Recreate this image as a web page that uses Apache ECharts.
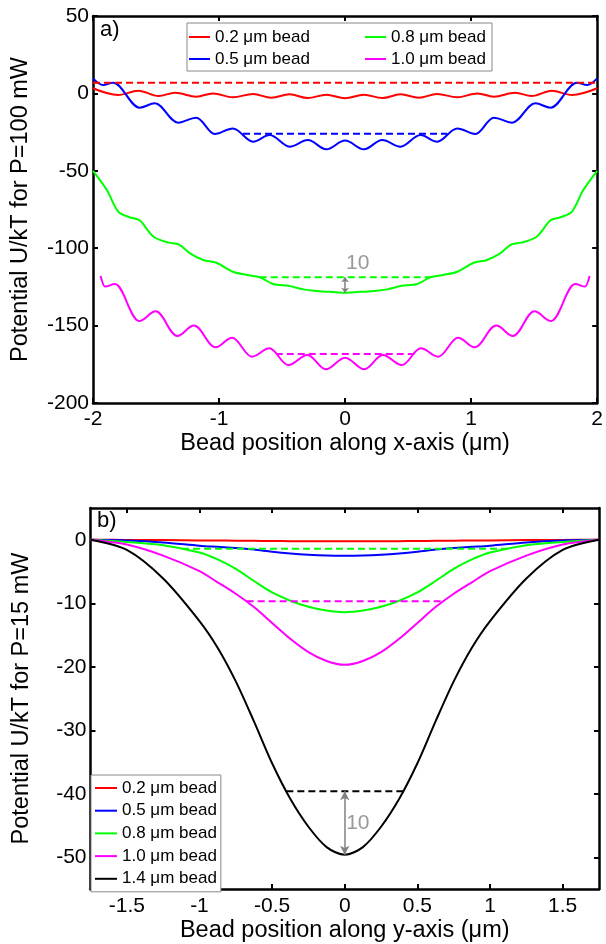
<!DOCTYPE html>
<html><head><meta charset="utf-8">
<script src="https://cdn.jsdelivr.net/npm/echarts@6/dist/echarts.min.js"></script>
<style>html,body{margin:0;padding:0;background:#fff}#c{width:606px;height:944px}</style>
</head><body><div id="c"></div>
<script>
// ---------- names / colours ----------
const names = ['0.2 μm bead', '0.5 μm bead', '0.8 μm bead', '1.0 μm bead', '1.4 μm bead'];
const colors = ['#ff0000', '#0000ff', '#00ff00', '#ff00ff', '#000000'];

// ---------- panel a) : potential along x (P = 100 mW) ----------
const aXTicks = [-2, -1, 0, 1, 2];
const aYTicks = [-200, -150, -100, -50, 0, 50];

// oscillating curves: values read at their turning points
const aRedX = [-2, -1.80, -1.64, -1.48, -1.35, -1.18, -1.05, -0.89, -0.73, -0.585, -0.44, -0.295, -0.149, 0, 0.149, 0.295, 0.44, 0.585, 0.73, 0.89, 1.05, 1.18, 1.35, 1.48, 1.64, 1.80, 2];
const aRedY = [3.3, -1.0, 1.7, -1.7, 0.4, -2.1, 0.0, -2.5, -0.4, -2.8, -0.6, -3.0, -0.8, -3.1, -0.8, -3.0, -0.6, -2.8, -0.4, -2.5, 0.0, -2.1, 0.4, -1.7, 1.7, -1.0, 3.3];

const aBlueX = [-2, -1.92, -1.84, -1.63, -1.51, -1.325, -1.18, -1.034, -0.89, -0.73, -0.598, -0.44, -0.295, -0.149, 0, 0.149, 0.295, 0.44, 0.598, 0.73, 0.89, 1.034, 1.18, 1.325, 1.51, 1.63, 1.84, 1.92, 2];
const aBlueY = [9.7, 5.4, 6.9, -9.2, -6.4, -18.9, -15.7, -26.2, -22.6, -31.2, -26.9, -34.4, -30.1, -36.1, -30.5, -36.1, -30.1, -34.4, -26.9, -31.2, -22.6, -26.2, -15.7, -18.9, -6.4, -9.2, 6.9, 5.4, 9.7];

const aMagX = [-1.94, -1.905, -1.826, -1.634, -1.502, -1.331, -1.199, -1.028, -0.896, -0.739, -0.601, -0.450, -0.299, -0.153, 0, 0.153, 0.299, 0.450, 0.601, 0.739, 0.896, 1.028, 1.199, 1.331, 1.502, 1.634, 1.826, 1.905, 1.94];
const aMagY = [-118, -124.8, -123.2, -147.0, -140.8, -156.7, -150.0, -164.0, -157.8, -170.1, -164.7, -175.5, -169.0, -178.2, -170.7, -178.2, -169.0, -175.5, -164.7, -170.1, -157.8, -164.0, -150.0, -156.7, -140.8, -147.0, -123.2, -124.8, -118];

// terraced curve
const aGreenX = [-2, -1.89, -1.80, -1.71, -1.63, -1.52, -1.40, -1.32, -1.23, -1.126, -1.02, -0.89, -0.78, -0.677, -0.572, -0.44, -0.334, -0.228, -0.097, 0, 0.097, 0.228, 0.334, 0.44, 0.572, 0.677, 0.78, 0.89, 1.02, 1.126, 1.23, 1.32, 1.40, 1.52, 1.63, 1.71, 1.80, 1.89, 2];
const aGreenY = [-50, -62.4, -76.4, -80.0, -82.0, -92.6, -96.4, -97.5, -103.3, -107.6, -109.4, -115.2, -117.3, -118.8, -123.1, -124.4, -126.6, -127.6, -128.3, -128.7, -128.3, -127.6, -126.6, -124.4, -123.1, -118.8, -117.3, -115.2, -109.4, -107.6, -103.3, -97.5, -96.4, -92.6, -82.0, -80.0, -76.4, -62.4, -50];

// dashed "minimum + 10" levels: [xStart, xEnd], level
const aDashX = [[-2, 2], [-0.81, 0.81], [-0.677, 0.677], [-0.55, 0.55]];
const aDashY = [6.9, -26.1, -118.8, -168.3];
const aArrowY = [-118.8, -128.7];
const aLabelPos = [0.1, -109.8];

// ---------- panel b) : potential along y (P = 15 mW) ----------
const bXTicks = [-1.5, -1, -0.5, 0, 0.5, 1, 1.5];
const bYTicks = [-50, -40, -30, -20, -10, 0];

const bX = [-1.75, -1.5, -1.25, -1.0, -0.875, -0.75, -0.625, -0.5, -0.375, -0.25, -0.125, 0, 0.125, 0.25, 0.375, 0.5, 0.625, 0.75, 0.875, 1.0, 1.25, 1.5, 1.75];
const bRedY = [0, -0.02, -0.05, -0.1, -0.12, -0.15, -0.17, -0.2, -0.22, -0.24, -0.25, -0.25, -0.25, -0.24, -0.22, -0.2, -0.17, -0.15, -0.12, -0.1, -0.05, -0.02, 0];
const bBlueY = [0, -0.12, -0.42, -0.93, -1.12, -1.3, -1.55, -1.88, -2.15, -2.35, -2.47, -2.5, -2.47, -2.35, -2.15, -1.88, -1.55, -1.3, -1.12, -0.93, -0.42, -0.12, 0];
const bGreenY = [0, -0.35, -0.85, -2.0, -3.1, -4.6, -6.5, -8.3, -9.6, -10.55, -11.15, -11.4, -11.15, -10.55, -9.6, -8.3, -6.5, -4.6, -3.1, -2.0, -0.85, -0.35, 0];
const bMagY = [0, -0.75, -2.5, -4.95, -6.7, -8.5, -10.6, -13.1, -15.6, -17.7, -19.1, -19.7, -19.1, -17.7, -15.6, -13.1, -10.6, -8.5, -6.7, -4.95, -2.5, -0.75, 0];
const bBlackY = [0, -1.6, -6.1, -12.8, -17.0, -22.3, -28.6, -35.2, -40.8, -45.2, -48.4, -49.6, -48.4, -45.2, -40.8, -35.2, -28.6, -22.3, -17.0, -12.8, -6.1, -1.6, 0];

const bDashX = [[-1.12, 1.12], [-0.675, 0.675], [-0.402, 0.402]];
const bDashY = [-1.43, -9.7, -39.6];
const bDashColor = [2, 3, 4];
const bArrowY = [-39.6, -49.6];
const bLabelPos = [0.09, -44.6];

// ---------- build ----------
const FONT = 'Liberation Sans, Arial, sans-serif';
const zip = (xs, ys) => xs.map((x, i) => [x, ys[i]]);

function curve(name, color, xs, ys, gi, turning) {
  const s = {
    type: 'line', name, data: zip(xs, ys), xAxisIndex: gi * 2, yAxisIndex: gi * 2,
    symbol: 'none', color, lineStyle: { color, width: 2 }, z: 2, silent: true
  };
  if (turning) { s.smooth = 0.36; s.smoothMonotone = 'x'; } else { s.smooth = 0.3; }
  return s;
}
function dash(color, xr, y, gi) {
  return {
    type: 'line', name: 'dash', data: [[xr[0], y], [xr[1], y]], xAxisIndex: gi * 2, yAxisIndex: gi * 2,
    symbol: 'none', lineStyle: { color, width: 2, type: [7, 4] }, z: 2, silent: true
  };
}
function annot(pos, arrowY, gi, size) {
  return {
    type: 'scatter', name: 'annot', xAxisIndex: gi * 2, yAxisIndex: gi * 2,
    data: [pos], symbolSize: 1, itemStyle: { color: 'rgba(0,0,0,0)' }, silent: true, z: 3,
    label: { show: true, formatter: '10', position: 'inside', color: '#808080', fontSize: 21, fontFamily: FONT },
    markLine: {
      silent: true, symbol: ['arrow', 'arrow'], symbolSize: size, animation: false,
      lineStyle: { color: '#808080', width: 1.5, type: 'solid' }, label: { show: false },
      data: [[{ coord: [0, arrowY[0]] }, { coord: [0, arrowY[1]] }]]
    }
  };
}

const axisLine = { show: true, onZero: false, lineStyle: { color: '#000', width: 2.5 } };
const axisTick = { show: true, inside: true, length: 5, lineStyle: { color: '#000', width: 2 } };
const lab = { color: '#000', fontSize: 21, fontFamily: FONT };
const nameStyle = { color: '#000', fontSize: 23.5, fontFamily: FONT };

const aColors = colors.slice(0, 4);
const series = [
  curve(names[0], colors[0], aRedX, aRedY, 0, true),
  curve(names[1], colors[1], aBlueX, aBlueY, 0, true),
  curve(names[2], colors[2], aGreenX, aGreenY, 0, false),
  curve(names[3], colors[3], aMagX, aMagY, 0, true),
  ...aDashX.map((xr, i) => dash(aColors[i], xr, aDashY[i], 0)),
  annot(aLabelPos, aArrowY, 0, [6, 5]),
  curve(names[0], colors[0], bX, bRedY, 1, false),
  curve(names[1], colors[1], bX, bBlueY, 1, false),
  curve(names[2], colors[2], bX, bGreenY, 1, false),
  curve(names[3], colors[3], bX, bMagY, 1, false),
  curve(names[4], colors[4], bX, bBlackY, 1, false),
  ...bDashX.map((xr, i) => dash(colors[bDashColor[i]], xr, bDashY[i], 1)),
  annot(bLabelPos, bArrowY, 1, [7, 9])
];

const legendText = { color: '#000', fontSize: 17, lineHeight: 20, fontFamily: FONT };
const option = {
  animation: false,
  backgroundColor: '#fff',
  textStyle: { fontFamily: FONT },
  title: [
    { text: 'a)', left: 100, top: 19, padding: 0, textStyle: { fontSize: 22, fontWeight: 'normal', color: '#000', fontFamily: FONT } },
    { text: 'b)', left: 97, top: 510, padding: 0, textStyle: { fontSize: 22, fontWeight: 'normal', color: '#000', fontFamily: FONT } }
  ],
  grid: [
    { left: 93, top: 16, width: 506, height: 387 },
    { left: 90.5, top: 508, width: 508.5, height: 386 }
  ],
  xAxis: [
    { type: 'value', gridIndex: 0, min: -2, max: 2, interval: 1, axisLine, axisTick, splitLine: { show: false },
      axisLabel: { ...lab, margin: 6 }, name: 'Bead position along x-axis (μm)', nameLocation: 'middle', nameGap: 29, nameTextStyle: nameStyle },
    { type: 'value', gridIndex: 0, position: 'top', min: -2, max: 2, interval: 1, axisLine, axisTick, splitLine: { show: false }, axisLabel: { show: false } },
    { type: 'value', gridIndex: 1, min: -1.75, max: 1.75, axisLine, splitLine: { show: false },
      axisTick: { ...axisTick, customValues: bXTicks },
      axisLabel: { ...lab, margin: 7, customValues: bXTicks }, name: 'Bead position along y-axis (μm)', nameLocation: 'middle', nameGap: 30, nameTextStyle: nameStyle },
    { type: 'value', gridIndex: 1, position: 'top', min: -1.75, max: 1.75, axisLine, splitLine: { show: false },
      axisTick: { ...axisTick, customValues: bXTicks }, axisLabel: { show: false, customValues: bXTicks } }
  ],
  yAxis: [
    { type: 'value', gridIndex: 0, min: -200, max: 50, interval: 50, axisLine, axisTick, splitLine: { show: false },
      axisLabel: { ...lab, margin: 4 }, name: 'Potential U/kT for P=100 mW', nameLocation: 'middle', nameGap: 60, nameTextStyle: nameStyle },
    { type: 'value', gridIndex: 0, position: 'right', min: -200, max: 50, interval: 50, axisLine, axisTick, splitLine: { show: false }, axisLabel: { show: false } },
    { type: 'value', gridIndex: 1, min: -55, max: 5, axisLine, splitLine: { show: false },
      axisTick: { ...axisTick, customValues: bYTicks },
      axisLabel: { ...lab, margin: 4, customValues: bYTicks }, name: 'Potential U/kT for P=15 mW', nameLocation: 'middle', nameGap: 57, nameTextStyle: nameStyle },
    { type: 'value', gridIndex: 1, position: 'right', min: -55, max: 5, axisLine, splitLine: { show: false },
      axisTick: { ...axisTick, customValues: bYTicks }, axisLabel: { show: false, customValues: bYTicks } }
  ],
  legend: [
    { data: [names[0], names[1]], orient: 'vertical', left: 189, top: 27, padding: 0, itemGap: 2,
      itemWidth: 21, itemHeight: 2, icon: 'rect', textStyle: legendText, selectedMode: false, z: 5 },
    { data: [names[2], names[3]], orient: 'vertical', left: 365, top: 27, padding: 0, itemGap: 2,
      itemWidth: 21, itemHeight: 2, icon: 'rect', textStyle: legendText, selectedMode: false, z: 5 },
    { data: names, orient: 'vertical', left: 91, top: 775, padding: [3, 4, 3, 4], itemGap: 2.7,
      itemWidth: 22, itemHeight: 2, icon: 'rect', textStyle: legendText, selectedMode: false,
      borderColor: '#888', borderWidth: 1, backgroundColor: '#fff', z: 5 }
  ],
  graphic: [
    { type: 'rect', z: 4, silent: true, shape: { x: 187, y: 23, width: 305, height: 48 },
      style: { fill: '#fff', stroke: '#888', lineWidth: 1 } }
  ],
  series
};

const chart = echarts.init(document.getElementById('c'), null, { renderer: 'canvas', width: 606, height: 944 });
chart.setOption(option);
</script></body></html>
